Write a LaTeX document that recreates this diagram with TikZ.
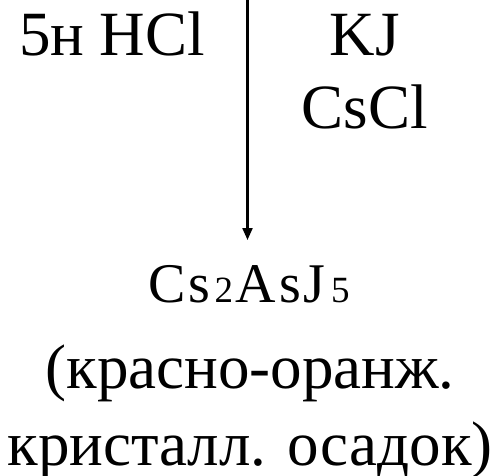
\documentclass[tikz,border=0pt]{standalone}
\usepackage{fontspec}
\setmainfont{Liberation Serif}
\usetikzlibrary{arrows.meta}
\tikzset{
  label text/.style={inner sep=0pt, outer sep=0pt, font=\fontsize{63}{73}\selectfont},
  formula text/.style={inner sep=0pt, outer sep=0pt, font=\fontsize{56}{66}\selectfont},
  flow arrow/.style={line width=2.2pt, -{Triangle[length=12pt,width=10pt]}}
}
\newcommand{\smalldigit}[1]{{\fontsize{37}{44}\selectfont #1}}
\begin{document}
\begin{tikzpicture}[x=1pt, y=-1pt]
  \useasboundingbox (0,0) rectangle (495,475);
  % reagents on both sides of the arrow (base = baseline of the last line)
  \node[label text, anchor=base west] (acid) at (19,55) {5н HCl};
  \node[label text, anchor=base, align=center] (salts) at (365,128) {KJ\\CsCl};
  % reaction arrow
  \coordinate (src) at (247.5,0);
  \coordinate (tip) at (247.5,240);
  \draw[flow arrow] (src) -- (tip);
  % product
  \node[formula text, anchor=base] (prod) at (249,302)
    {C\kern3pt s\kern4pt \smalldigit{2}\kern2pt A\kern4pt s\kern2pt J\kern6pt \smalldigit{5}};
  \node[label text, anchor=base, align=center, font=\fontsize{63}{77}\selectfont] (desc) at (250,465)
    {(красно-оранж.\\кристалл. осадок)};
\end{tikzpicture}
\end{document}
